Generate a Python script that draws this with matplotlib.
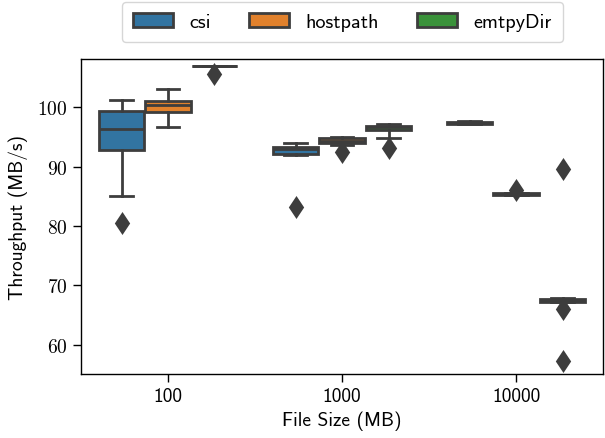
import matplotlib
matplotlib.use("Agg")
import matplotlib.pyplot as plt
import matplotlib.ticker as mticker
from matplotlib.patches import Patch
import numpy as np

plt.rcParams['font.family'] = ['cmss10', 'DejaVu Sans']
plt.rcParams['mathtext.fontset'] = 'cm'
plt.rcParams['axes.unicode_minus'] = False

groups = ["100", "1000", "10000"]
hues = ["csi", "hostpath", "emtpyDir"]
colors = ["#3274a1", "#e1812c", "#3a923a"]

csi_q1 = [92.8, 92.15, 97.2]
csi_med = [96.4, 93.0, 97.35]
csi_q3 = [99.4, 93.27, 97.5]
csi_lo = [85.0, 92.0, 97.1]
csi_hi = [101.2, 94.0, 97.6]
csi_fliers = [[80.4], [83.1], []]

host_q1 = [99.2, 94.0, 85.2]
host_med = [100.4, 94.3, 85.35]
host_q3 = [101.0, 94.78, 85.5]
host_lo = [96.6, 93.55, 85.15]
host_hi = [103.0, 95.0, 85.6]
host_fliers = [[], [92.4], [86.0]]

empty_q1 = [106.95, 96.08, 67.25]
empty_med = [106.95, 96.7, 67.45]
empty_q3 = [106.95, 96.9, 67.65]
empty_lo = [106.95, 94.8, 67.2]
empty_hi = [107.0, 97.14, 67.9]
empty_fliers = [[105.6], [93.1], [89.6, 66.0, 57.3]]

series = [
    (csi_q1, csi_med, csi_q3, csi_lo, csi_hi, csi_fliers),
    (host_q1, host_med, host_q3, host_lo, host_hi, host_fliers),
    (empty_q1, empty_med, empty_q3, empty_lo, empty_hi, empty_fliers),
]

gray = "#3d3d3d"
lw = 2.0
fig = plt.figure(figsize=(6.05, 4.39), dpi=100)
ax = fig.add_axes([0.134, 0.146, 0.863, 0.717])

n = len(hues)
each = 0.8 / n
offsets = each * (np.arange(n) - (n - 1) / 2)
for h, (q1, med, q3, lo, hi, fl) in enumerate(series):
    stats = []
    for g in range(len(groups)):
        stats.append(dict(q1=q1[g], med=med[g], q3=q3[g], whislo=lo[g], whishi=hi[g],
                          fliers=fl[g], label=groups[g]))
    pos = np.arange(len(groups)) + offsets[h]
    ax.bxp(stats, positions=pos, widths=each * 0.98, patch_artist=True,
           showfliers=True, manage_ticks=False,
           boxprops=dict(facecolor=colors[h], edgecolor=gray, linewidth=lw),
           medianprops=dict(color=gray, linewidth=lw),
           whiskerprops=dict(color=gray, linewidth=lw),
           capprops=dict(color=gray, linewidth=lw),
           flierprops=dict(marker="d", markerfacecolor=gray, markeredgecolor=gray,
                           markersize=9.5, markeredgewidth=lw, linestyle="none"))

ax.set_xlim(-0.5, len(groups) - 0.5)
ax.set_ylim(55.05, 108.1)
ax.set_xticks(np.arange(len(groups)))
ax.set_xticklabels(groups)
ax.set_yticks([60, 70, 80, 90, 100])
ax.yaxis.set_major_formatter(mticker.FuncFormatter(lambda v, p: r"$%d$" % v))
ax.tick_params(axis='both', labelsize=14, length=6, width=1.0, direction='out')
for s in ax.spines.values():
    s.set_linewidth(1.0)
    s.set_color("black")
ax.set_xlabel("File Size (MB)", fontsize=14)
ax.set_ylabel("Throughput (MB/s)", fontsize=14, labelpad=7)

handles = [Patch(facecolor=c, edgecolor=gray, linewidth=lw) for c in colors]
ax.legend(handles, hues, loc="lower center", bbox_to_anchor=(0.5, 1.055), ncol=3,
          fontsize=14.5, frameon=True, fancybox=True, edgecolor="0.8", columnspacing=1.9,
          borderpad=0.55, borderaxespad=0.0)

fig.savefig("out.png", dpi=100)
